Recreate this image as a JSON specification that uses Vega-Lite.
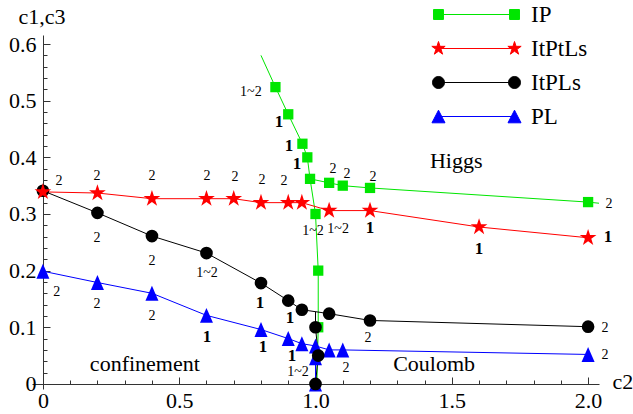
{
  "$schema": "https://vega.github.io/schema/vega-lite/v6.json",
  "width": 567,
  "height": 354,
  "autosize": "none",
  "padding": {"left": 32, "top": 35, "right": 34, "bottom": 25},
  "background": "white",
  "config": {"view": {"stroke": null}, "font": "Liberation Serif"},
  "datasets": {
    "lines": [
      {"series": "IP", "branch": "IPa", "seq": 1, "c2": 0.80, "c1": 0.58},
      {"series": "IP", "branch": "IPa", "seq": 2, "c2": 0.853, "c1": 0.524},
      {"series": "IP", "branch": "IPa", "seq": 3, "c2": 0.90, "c1": 0.476},
      {"series": "IP", "branch": "IPa", "seq": 4, "c2": 0.952, "c1": 0.424},
      {"series": "IP", "branch": "IPa", "seq": 5, "c2": 0.97, "c1": 0.40},
      {"series": "IP", "branch": "IPa", "seq": 6, "c2": 0.98, "c1": 0.362},
      {"series": "IP", "branch": "IPa", "seq": 7, "c2": 1.0, "c1": 0.30},
      {"series": "IP", "branch": "IPa", "seq": 8, "c2": 1.01, "c1": 0.20},
      {"series": "IP", "branch": "IPa", "seq": 9, "c2": 1.01, "c1": 0.10},
      {"series": "IP", "branch": "IPa", "seq": 10, "c2": 1.005, "c1": 0.0},
      {"series": "IP", "branch": "IPb", "seq": 1, "c2": 0.98, "c1": 0.362},
      {"series": "IP", "branch": "IPb", "seq": 2, "c2": 1.05, "c1": 0.355},
      {"series": "IP", "branch": "IPb", "seq": 3, "c2": 1.1, "c1": 0.35},
      {"series": "IP", "branch": "IPb", "seq": 4, "c2": 1.2, "c1": 0.346},
      {"series": "IP", "branch": "IPb", "seq": 5, "c2": 2.0, "c1": 0.321},
      {"series": "IP", "branch": "IPb", "seq": 6, "c2": 2.04, "c1": 0.319},
      {"series": "ItPtLs", "branch": "R", "seq": 1, "c2": 0.0, "c1": 0.339},
      {"series": "ItPtLs", "branch": "R", "seq": 2, "c2": 0.2, "c1": 0.337},
      {"series": "ItPtLs", "branch": "R", "seq": 3, "c2": 0.4, "c1": 0.327},
      {"series": "ItPtLs", "branch": "R", "seq": 4, "c2": 0.6, "c1": 0.327},
      {"series": "ItPtLs", "branch": "R", "seq": 5, "c2": 0.7, "c1": 0.327},
      {"series": "ItPtLs", "branch": "R", "seq": 6, "c2": 0.8, "c1": 0.32},
      {"series": "ItPtLs", "branch": "R", "seq": 7, "c2": 0.9, "c1": 0.32},
      {"series": "ItPtLs", "branch": "R", "seq": 8, "c2": 0.95, "c1": 0.32},
      {"series": "ItPtLs", "branch": "R", "seq": 9, "c2": 1.05, "c1": 0.306},
      {"series": "ItPtLs", "branch": "R", "seq": 10, "c2": 1.2, "c1": 0.306},
      {"series": "ItPtLs", "branch": "R", "seq": 11, "c2": 1.6, "c1": 0.277},
      {"series": "ItPtLs", "branch": "R", "seq": 12, "c2": 2.0, "c1": 0.258},
      {"series": "ItPLs", "branch": "Ka", "seq": 1, "c2": 0.0, "c1": 0.341},
      {"series": "ItPLs", "branch": "Ka", "seq": 2, "c2": 0.2, "c1": 0.302},
      {"series": "ItPLs", "branch": "Ka", "seq": 3, "c2": 0.4, "c1": 0.261},
      {"series": "ItPLs", "branch": "Ka", "seq": 4, "c2": 0.6, "c1": 0.231},
      {"series": "ItPLs", "branch": "Ka", "seq": 5, "c2": 0.8, "c1": 0.178},
      {"series": "ItPLs", "branch": "Ka", "seq": 6, "c2": 0.9, "c1": 0.147},
      {"series": "ItPLs", "branch": "Ka", "seq": 7, "c2": 0.95, "c1": 0.131},
      {"series": "ItPLs", "branch": "Ka", "seq": 8, "c2": 1.05, "c1": 0.124},
      {"series": "ItPLs", "branch": "Ka", "seq": 9, "c2": 1.2, "c1": 0.112},
      {"series": "ItPLs", "branch": "Ka", "seq": 10, "c2": 2.0, "c1": 0.101},
      {"series": "ItPLs", "branch": "Kb", "seq": 1, "c2": 1.0, "c1": 0.127},
      {"series": "ItPLs", "branch": "Kb", "seq": 2, "c2": 1.0, "c1": 0.10},
      {"series": "ItPLs", "branch": "Kb", "seq": 3, "c2": 1.01, "c1": 0.05},
      {"series": "ItPLs", "branch": "Kb", "seq": 4, "c2": 1.0, "c1": 0.0},
      {"series": "PL", "branch": "Ba", "seq": 1, "c2": 0.0, "c1": 0.199},
      {"series": "PL", "branch": "Ba", "seq": 2, "c2": 0.2, "c1": 0.179},
      {"series": "PL", "branch": "Ba", "seq": 3, "c2": 0.4, "c1": 0.16},
      {"series": "PL", "branch": "Ba", "seq": 4, "c2": 0.6, "c1": 0.121},
      {"series": "PL", "branch": "Ba", "seq": 5, "c2": 0.8, "c1": 0.096},
      {"series": "PL", "branch": "Ba", "seq": 6, "c2": 0.9, "c1": 0.08},
      {"series": "PL", "branch": "Ba", "seq": 7, "c2": 0.95, "c1": 0.071},
      {"series": "PL", "branch": "Ba", "seq": 8, "c2": 1.0, "c1": 0.067},
      {"series": "PL", "branch": "Ba", "seq": 9, "c2": 1.05, "c1": 0.06},
      {"series": "PL", "branch": "Ba", "seq": 10, "c2": 1.1, "c1": 0.06},
      {"series": "PL", "branch": "Ba", "seq": 11, "c2": 2.0, "c1": 0.052},
      {"series": "PL", "branch": "Bb", "seq": 1, "c2": 1.0, "c1": 0.067},
      {"series": "PL", "branch": "Bb", "seq": 2, "c2": 1.0, "c1": 0.046},
      {"series": "PL", "branch": "Bb", "seq": 3, "c2": 1.0, "c1": 0.0}
    ],
    "points": [
      {"series": "PL", "c2": 0.0, "c1": 0.199},
      {"series": "PL", "c2": 0.2, "c1": 0.179},
      {"series": "PL", "c2": 0.4, "c1": 0.16},
      {"series": "PL", "c2": 0.6, "c1": 0.121},
      {"series": "PL", "c2": 0.8, "c1": 0.096},
      {"series": "PL", "c2": 0.9, "c1": 0.08},
      {"series": "PL", "c2": 0.95, "c1": 0.071},
      {"series": "PL", "c2": 1.0, "c1": 0.067},
      {"series": "PL", "c2": 1.05, "c1": 0.06},
      {"series": "PL", "c2": 1.1, "c1": 0.06},
      {"series": "PL", "c2": 2.0, "c1": 0.052},
      {"series": "PL", "c2": 1.0, "c1": 0.046},
      {"series": "PL", "c2": 1.0, "c1": 0.0},
      {"series": "IP", "c2": 0.853, "c1": 0.524},
      {"series": "IP", "c2": 0.90, "c1": 0.476},
      {"series": "IP", "c2": 0.952, "c1": 0.424},
      {"series": "IP", "c2": 0.97, "c1": 0.40},
      {"series": "IP", "c2": 0.98, "c1": 0.362},
      {"series": "IP", "c2": 1.0, "c1": 0.30},
      {"series": "IP", "c2": 1.01, "c1": 0.20},
      {"series": "IP", "c2": 1.01, "c1": 0.10},
      {"series": "IP", "c2": 1.05, "c1": 0.355},
      {"series": "IP", "c2": 1.1, "c1": 0.35},
      {"series": "IP", "c2": 1.2, "c1": 0.346},
      {"series": "IP", "c2": 2.0, "c1": 0.321},
      {"series": "ItPLs", "c2": 0.0, "c1": 0.341},
      {"series": "ItPLs", "c2": 0.2, "c1": 0.302},
      {"series": "ItPLs", "c2": 0.4, "c1": 0.261},
      {"series": "ItPLs", "c2": 0.6, "c1": 0.231},
      {"series": "ItPLs", "c2": 0.8, "c1": 0.178},
      {"series": "ItPLs", "c2": 0.9, "c1": 0.147},
      {"series": "ItPLs", "c2": 0.95, "c1": 0.131},
      {"series": "ItPLs", "c2": 1.05, "c1": 0.124},
      {"series": "ItPLs", "c2": 1.2, "c1": 0.112},
      {"series": "ItPLs", "c2": 2.0, "c1": 0.101},
      {"series": "ItPLs", "c2": 1.0, "c1": 0.10},
      {"series": "ItPLs", "c2": 1.01, "c1": 0.05},
      {"series": "ItPLs", "c2": 1.0, "c1": 0.0},
      {"series": "ItPtLs", "c2": 0.0, "c1": 0.339},
      {"series": "ItPtLs", "c2": 0.2, "c1": 0.337},
      {"series": "ItPtLs", "c2": 0.4, "c1": 0.327},
      {"series": "ItPtLs", "c2": 0.6, "c1": 0.327},
      {"series": "ItPtLs", "c2": 0.7, "c1": 0.327},
      {"series": "ItPtLs", "c2": 0.8, "c1": 0.32},
      {"series": "ItPtLs", "c2": 0.9, "c1": 0.32},
      {"series": "ItPtLs", "c2": 0.95, "c1": 0.32},
      {"series": "ItPtLs", "c2": 1.05, "c1": 0.306},
      {"series": "ItPtLs", "c2": 1.2, "c1": 0.306},
      {"series": "ItPtLs", "c2": 1.6, "c1": 0.277},
      {"series": "ItPtLs", "c2": 2.0, "c1": 0.258}
    ],
    "labels": [
      {"t": "1~2", "c2": 0.763, "c1": 0.515},
      {"t": "1", "c2": 0.866, "c1": 0.462},
      {"t": "1", "c2": 0.903, "c1": 0.420},
      {"t": "1", "c2": 0.932, "c1": 0.388},
      {"t": "2", "c2": 1.064, "c1": 0.379},
      {"t": "2", "c2": 1.116, "c1": 0.370},
      {"t": "2", "c2": 1.211, "c1": 0.365},
      {"t": "2", "c2": 2.077, "c1": 0.317},
      {"t": "1~2", "c2": 0.991, "c1": 0.270},
      {"t": "2", "c2": 0.059, "c1": 0.358},
      {"t": "2", "c2": 0.198, "c1": 0.367},
      {"t": "2", "c2": 0.40, "c1": 0.367},
      {"t": "2", "c2": 0.602, "c1": 0.367},
      {"t": "2", "c2": 0.705, "c1": 0.365},
      {"t": "2", "c2": 0.804, "c1": 0.360},
      {"t": "2", "c2": 0.884, "c1": 0.358},
      {"t": "1~2", "c2": 1.083, "c1": 0.273},
      {"t": "1", "c2": 1.20, "c1": 0.275},
      {"t": "1", "c2": 1.60, "c1": 0.238},
      {"t": "1", "c2": 2.073, "c1": 0.259},
      {"t": "2", "c2": 0.198, "c1": 0.257},
      {"t": "2", "c2": 0.40, "c1": 0.217},
      {"t": "1~2", "c2": 0.602, "c1": 0.196},
      {"t": "1", "c2": 0.796, "c1": 0.143},
      {"t": "1", "c2": 0.906, "c1": 0.116},
      {"t": "2", "c2": 1.193, "c1": 0.081},
      {"t": "2", "c2": 2.062, "c1": 0.099},
      {"t": "2", "c2": 0.051, "c1": 0.162},
      {"t": "2", "c2": 0.198, "c1": 0.141},
      {"t": "2", "c2": 0.40, "c1": 0.120},
      {"t": "1", "c2": 0.602, "c1": 0.083},
      {"t": "1", "c2": 0.807, "c1": 0.065},
      {"t": "1", "c2": 0.914, "c1": 0.049},
      {"t": "1~2", "c2": 0.936, "c1": 0.021},
      {"t": "2", "c2": 1.112, "c1": 0.028},
      {"t": "2", "c2": 2.062, "c1": 0.051}
    ],
    "regions": [
      {"t": "Higgs", "c2": 1.516, "c1": 0.381},
      {"t": "confinement", "c2": 0.374, "c1": 0.023},
      {"t": "Coulomb", "c2": 1.435, "c1": 0.023}
    ]
  },
  "encoding": {
    "x": {
      "field": "c2", "type": "quantitative",
      "scale": {"domain": [-0.04, 2.04], "nice": false, "zero": false},
      "axis": {
        "values": [0, 0.1, 0.2, 0.3, 0.4, 0.5, 0.6, 0.7, 0.8, 0.9, 1, 1.1, 1.2, 1.3, 1.4, 1.5, 1.6, 1.7, 1.8, 1.9, 2],
        "labelExpr": "abs(round(datum.value*10)) % 5 === 0 ? (datum.value === 0 ? '0' : format(datum.value, '.1f')) : ''",
        "offset": -5,
        "grid": false,
        "title": "c2",
        "titleX": 580, "titleY": 4,
        "titleAlign": "left", "titleBaseline": "alphabetic", "titleAnchor": null,
        "titleFont": "Liberation Serif", "titleFontSize": 22, "titleFontWeight": "normal", "titleColor": "#000",
        "labelFont": "Liberation Serif", "labelFontSize": 22, "labelColor": "#000",
        "labelPadding": 13, "labelOverlap": false, "labelFlush": false, "labelBound": false,
        "tickSize": {"condition": {"test": "abs(round(datum.value*10)) % 5 === 0", "value": -7}, "value": -4},
        "domainColor": "#333", "tickColor": "#333", "domainWidth": 1, "tickWidth": 1
      }
    },
    "y": {
      "field": "c1", "type": "quantitative",
      "scale": {"domain": [-0.009, 0.616], "nice": false, "zero": false},
      "axis": {
        "values": [0, 0.02, 0.04, 0.06, 0.08, 0.1, 0.12, 0.14, 0.16, 0.18, 0.2, 0.22, 0.24, 0.26, 0.28, 0.3, 0.32, 0.34, 0.36, 0.38, 0.4, 0.42, 0.44, 0.46, 0.48, 0.5, 0.52, 0.54, 0.56, 0.58, 0.6],
        "labelExpr": "abs(round(datum.value*100)) % 10 === 0 ? (datum.value === 0 ? '0' : format(datum.value, '.1f')) : ''",
        "offset": -11,
        "grid": false,
        "title": "c1,c3",
        "titleAngle": 0, "titleX": -25, "titleY": -12,
        "titleAlign": "left", "titleBaseline": "alphabetic", "titleAnchor": null,
        "titleFont": "Liberation Serif", "titleFontSize": 22, "titleFontWeight": "normal", "titleColor": "#000",
        "labelFont": "Liberation Serif", "labelFontSize": 22, "labelColor": "#000",
        "labelPadding": 14, "labelOverlap": false, "labelFlush": false, "labelBound": false,
        "tickSize": {"condition": {"test": "abs(round(datum.value*100)) % 10 === 0", "value": -7}, "value": -4},
        "domainColor": "#333", "tickColor": "#333", "domainWidth": 1, "tickWidth": 1
      }
    }
  },
  "layer": [
    {
      "data": {"name": "points"},
      "mark": {"type": "point", "filled": true, "opacity": 0, "size": 196},
      "encoding": {
        "color": {"field": "series", "type": "nominal",
          "scale": {"domain": ["IP", "ItPtLs", "ItPLs", "PL"], "range": ["#00e600", "#ff0000", "#000000", "#0000ff"]},
          "legend": {
            "orient": "none", "legendX": 433, "legendY": -32, "title": null,
            "symbolSize": 196, "labelFontSize": 23, "labelFont": "Liberation Serif", "labelColor": "#000",
            "labelOffset": 43, "rowPadding": 10, "symbolStrokeWidth": 1, "symbolOpacity": 1
          }
        },
        "stroke": {"field": "series", "type": "nominal",
          "scale": {"domain": ["IP", "ItPtLs", "ItPLs", "PL"], "range": ["#00e600", "#ff0000", "#000000", "#0000ff"]}},
        "shape": {"field": "series", "type": "nominal",
          "scale": {"domain": ["IP", "ItPtLs", "ItPLs", "PL"],
            "range": [
              "M-5.43,0L5.43,0M-6.14,-0.71L-4.72,-0.71L-4.72,0.71L-6.14,0.71ZM4.72,-0.71L6.14,-0.71L6.14,0.71L4.72,0.71Z",
              "M-5.43,0L5.43,0M-5.43,-1L-5.21,-0.31L-4.48,-0.31L-5.07,0.12L-4.84,0.81L-5.43,0.38L-6.02,0.81L-5.79,0.12L-6.38,-0.31L-5.65,-0.31ZM5.43,-1L5.65,-0.31L6.38,-0.31L5.79,0.12L6.02,0.81L5.43,0.38L4.84,0.81L5.07,0.12L4.48,-0.31L5.21,-0.31Z",
              "M-5.43,0L5.43,0M-6.29,0A0.86,0.86,0,1,0,-4.57,0A0.86,0.86,0,1,0,-6.29,0ZM4.57,0A0.86,0.86,0,1,0,6.29,0A0.86,0.86,0,1,0,4.57,0Z",
              "M-5.43,0L5.43,0M-5.43,-0.9L-4.5,0.9L-6.36,0.9ZM5.43,-0.9L6.36,0.9L4.5,0.9Z"
            ]}}
      }
    },
    {
      "data": {"name": "lines"},
      "mark": {"type": "line", "strokeWidth": 1},
      "encoding": {
        "stroke": {"field": "series", "type": "nominal"},
        "detail": {"field": "branch"},
        "order": {"field": "seq", "type": "quantitative"}
      }
    },
    {
      "data": {"name": "points"},
      "transform": [{"filter": "datum.series === 'PL'"}],
      "mark": {"type": "point", "filled": true, "opacity": 1, "shape": "M0,-1.15L1,1.15L-1,1.15Z", "size": 169},
      "encoding": {"color": {"field": "series", "type": "nominal"}}
    },
    {
      "data": {"name": "points"},
      "transform": [{"filter": "datum.series === 'IP'"}],
      "mark": {"type": "point", "filled": true, "opacity": 1, "shape": "square", "size": 106},
      "encoding": {"color": {"field": "series", "type": "nominal"}}
    },
    {
      "data": {"name": "points"},
      "transform": [{"filter": "datum.series === 'ItPLs'"}],
      "mark": {"type": "point", "filled": true, "opacity": 1, "shape": "circle", "size": 160},
      "encoding": {"color": {"field": "series", "type": "nominal"}}
    },
    {
      "data": {"name": "points"},
      "transform": [{"filter": "datum.series === 'ItPtLs'"}],
      "mark": {"type": "point", "filled": true, "opacity": 1, "shape": "M0,-1L0.2245,-0.309L0.951,-0.309L0.363,0.118L0.588,0.809L0,0.382L-0.588,0.809L-0.363,0.118L-0.951,-0.309L-0.2245,-0.309Z", "size": 310},
      "encoding": {"color": {"field": "series", "type": "nominal"}}
    },
    {
      "data": {"name": "labels"},
      "transform": [{"filter": "datum.t !== '1'"}],
      "mark": {"type": "text", "font": "Liberation Serif", "fontSize": 14, "color": "#000", "align": "center", "baseline": "middle"},
      "encoding": {"text": {"field": "t", "type": "nominal"}}
    },
    {
      "data": {"name": "labels"},
      "transform": [{"filter": "datum.t === '1'"}],
      "mark": {"type": "text", "font": "Liberation Serif", "fontSize": 17, "fontWeight": "bold", "color": "#000", "align": "center", "baseline": "middle"},
      "encoding": {"text": {"field": "t", "type": "nominal"}}
    },
    {
      "data": {"name": "regions"},
      "mark": {"type": "text", "font": "Liberation Serif", "fontSize": 22, "color": "#000", "align": "center", "baseline": "alphabetic"},
      "encoding": {"text": {"field": "t", "type": "nominal"}}
    }
  ]
}
